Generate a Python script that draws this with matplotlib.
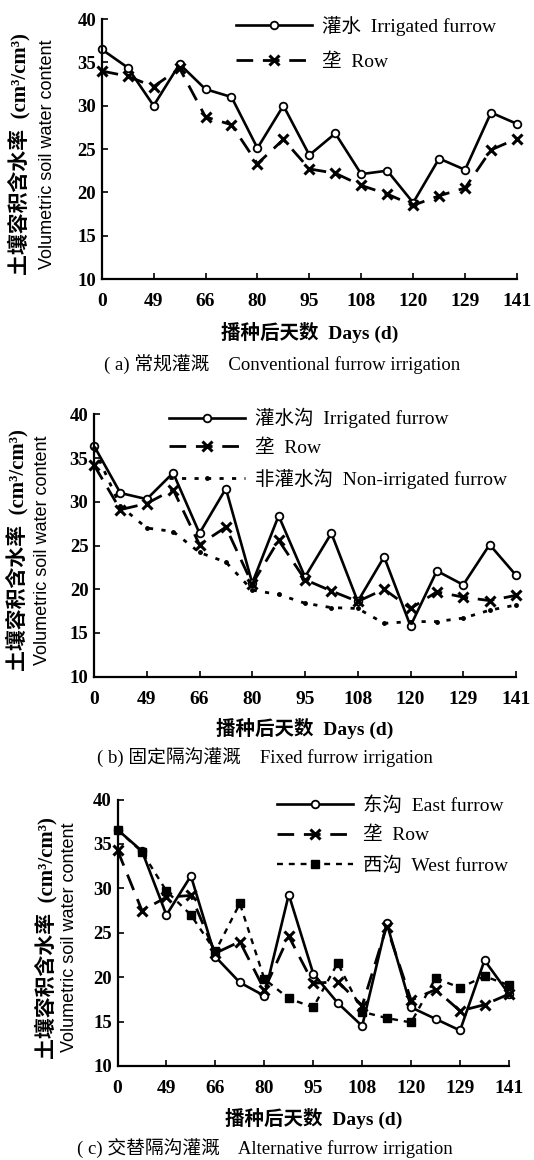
import numpy as np
import matplotlib
matplotlib.use("Agg")
import matplotlib.pyplot as plt
from matplotlib.font_manager import FontProperties

# ---------------- data ----------------
day_labels = ["0", "49", "66", "80", "95", "108", "120", "129", "141"]

# (a) conventional furrow irrigation
a_irrigated = [36.5, 34.4, 30.0, 34.8, 31.9, 31.0, 25.1, 30.0, 24.3, 26.8, 22.1, 22.5, 18.8, 23.9, 22.6, 29.2, 27.9]
a_row = [34.0, 33.4, 32.2, 34.3, 28.7, 27.8, 23.3, 26.1, 22.7, 22.2, 20.8, 19.8, 18.5, 19.6, 20.5, 24.9, 26.2]

# (b) fixed furrow irrigation
b_irrigated = [36.4, 31.0, 30.3, 33.3, 26.4, 31.5, 20.7, 28.4, 21.4, 26.4, 18.6, 23.7, 15.8, 22.1, 20.5, 25.1, 21.6]
b_row = [34.2, 29.1, 29.8, 31.4, 25.1, 27.1, 20.6, 25.6, 21.1, 19.8, 18.6, 20.0, 17.8, 19.7, 19.1, 18.7, 19.3]
b_nonirrigated = [36.1, 29.5, 27.0, 26.6, 24.2, 23.1, 19.9, 19.4, 18.4, 17.9, 17.8, 16.1, 16.3, 16.3, 16.7, 17.6, 18.2]

# (c) alternative furrow irrigation
c_east = [36.6, 34.2, 27.0, 31.4, 22.3, 19.4, 17.9, 29.3, 20.4, 17.1, 14.5, 26.1, 16.6, 15.3, 14.0, 21.9, 18.1]
c_row = [34.3, 27.5, 29.0, 29.2, 22.7, 24.0, 18.6, 24.6, 19.3, 19.5, 16.8, 25.7, 17.4, 18.6, 16.2, 16.9, 18.1]
c_west = [36.6, 34.1, 29.7, 27.0, 22.9, 28.3, 19.8, 17.6, 16.6, 21.6, 16.1, 15.4, 14.9, 19.9, 18.8, 20.1, 19.1]

labels_a = ["灌水  Irrigated furrow", "垄  Row"]
labels_b = ["灌水沟  Irrigated furrow", "垄  Row", "非灌水沟  Non-irrigated furrow"]
labels_c = ["东沟  East furrow", "垄  Row", "西沟  West furrow"]

captions = ["( a) 常规灌溉    Conventional furrow irrigation",
            "( b) 固定隔沟灌溉    Fixed furrow irrigation",
            "( c) 交替隔沟灌溉    Alternative furrow irrigation"]

xlabel_text = "播种后天数  Days (d)"
ylabel_cn = "土壤容积含水率  (cm³/cm³)"
ylabel_en = "Volumetric soil water content"

# ---------------- style ----------------
SERIF_CJK = ["Liberation Serif", "Noto Sans CJK SC"]
W, H = 534, 1160
fig = plt.figure(figsize=(W / 100, H / 100), dpi=100)

def px_axes(x0, y0, x1, y1):
    return fig.add_axes([x0 / W, 1 - y1 / H, (x1 - x0) / W, (y1 - y0) / H])

styles = {
    "irr": dict(color="black", lw=1.9, ls="-", marker="o", ms=5.5, mfc="white", mec="black", mew=1.3),
    "row": dict(color="black", lw=2.0, ls=(0, (6, 3.5)), marker="x", ms=6.5, mew=2.2),
    "non": dict(color="black", lw=2.0, ls=(0, (1.5, 3)), marker=".", ms=5),
    "west": dict(color="black", lw=1.7, ls=(0, (2.5, 2.5)), marker="s", ms=5.5, mfc="black", mec="black"),
}

def style_axes(ax):
    ax.set_xlim(0, len(day_labels) - 1)
    ax.set_ylim(10, 40)
    ax.set_yticks(np.arange(10, 41, 5))
    ax.set_xticks(np.arange(len(day_labels)))
    ax.set_xticklabels(day_labels)
    for s in ("top", "right"):
        ax.spines[s].set_visible(False)
    for s in ("left", "bottom"):
        ax.spines[s].set_linewidth(1.6)
    ax.tick_params(axis="x", direction="in", length=4, width=1.2, pad=10)
    ax.tick_params(axis="y", direction="in", length=4, width=1.2, pad=4)
    for t in ax.get_xticklabels():
        t.set_fontproperties(FontProperties(family="Liberation Serif", weight="bold", size=14))
    for t in ax.get_yticklabels():
        t.set_fontproperties(FontProperties(family="Liberation Serif", weight="bold", size=13.5))

def draw(ax, series, keys):
    x = np.arange(len(series[0])) / 2.0
    lines = []
    for ys, k in zip(series, keys):
        ln, = ax.plot(x, ys, clip_on=False, **styles[k])
        lines.append(ln)
    return lines

panels = [
    dict(box=(101.7, 19, 517, 279), series=[a_irrigated, a_row], keys=["irr", "row"], labels=labels_a,
         leg=(236, 16), legsp=0.88, ylx=(19, 47), xly=332, capy=364, capx=282),
    dict(box=(94, 414.3, 516, 676.7), series=[b_irrigated, b_row, b_nonirrigated], keys=["irr", "row", "non"],
         labels=labels_b, leg=(169, 408), legsp=0.58, ylx=(17, 43), xly=728, capy=757, capx=265),
    dict(box=(117.5, 799.5, 509, 1066), series=[c_east, c_row, c_west], keys=["irr", "row", "west"],
         labels=labels_c, leg=(277, 796), legsp=0.62, ylx=(46, 70), xly=1118, capy=1148, capx=265),
]

for i, p in enumerate(panels):
    x0, y0, x1, y1 = p["box"]
    ax = px_axes(x0, y0, x1, y1)
    lines = draw(ax, p["series"], p["keys"])
    style_axes(ax)
    lx, ly = p["leg"]
    ax.legend(lines, p["labels"], loc="upper left", bbox_to_anchor=(lx / W, 1 - ly / H),
              bbox_transform=fig.transFigure, frameon=False, borderpad=0, borderaxespad=0,
              handlelength=3.9, handletextpad=0.5, labelspacing=p["legsp"],
              prop=FontProperties(family=SERIF_CJK, size=14))
    yc = (y0 + y1) / 2 + 5
    fig.text(p["ylx"][0] / W, 1 - yc / H, ylabel_cn, rotation=90, ha="center", va="center",
             fontproperties=FontProperties(family=SERIF_CJK, weight="bold", size=15))
    fig.text(p["ylx"][1] / W, 1 - yc / H, ylabel_en, rotation=90, ha="center", va="center",
             fontproperties=FontProperties(family="Liberation Sans", size=13))
    fig.text(((x0 + x1) / 2) / W, 1 - p["xly"] / H, xlabel_text, ha="center", va="center",
             fontproperties=FontProperties(family=SERIF_CJK, weight="bold", size=14))
    fig.text(p["capx"] / W, 1 - p["capy"] / H, captions[i], ha="center", va="center",
             fontproperties=FontProperties(family=SERIF_CJK, size=13.5))

fig.savefig("out.png", dpi=100)
